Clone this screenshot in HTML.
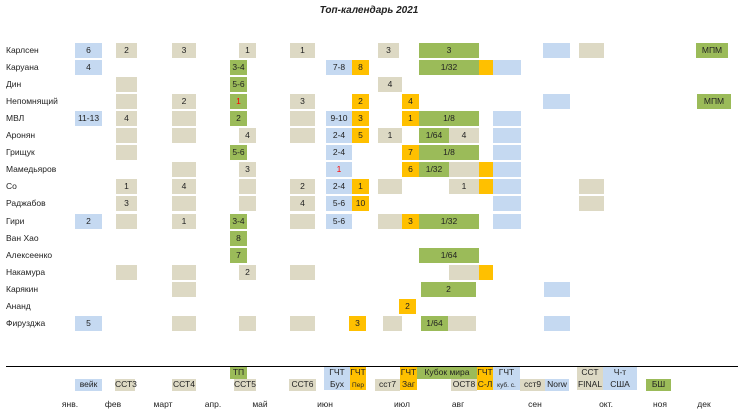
<!DOCTYPE html>
<html><head><meta charset="utf-8">
<style>
body{margin:0;background:#fff;}
#root{position:relative;width:738px;height:417px;overflow:hidden;font-family:"Liberation Sans",sans-serif;color:#222;}
.c{position:absolute;height:15px;line-height:15px;font-size:8.5px;text-align:center;white-space:nowrap;}
.nm{position:absolute;left:6px;font-size:8.5px;line-height:15px;height:15px;}
.lg{position:absolute;font-size:8.5px;text-align:center;white-space:nowrap;line-height:11.5px;}
.mo{position:absolute;top:399px;font-size:8.5px;transform:translateX(-50%);}
</style></head><body>
<div id="root">
<div style="position:absolute;left:0;width:738px;top:5px;text-align:center;font-size:10px;font-weight:bold;font-style:italic;">Топ-календарь 2021</div>
<div style="position:absolute;left:6px;width:732px;top:365.5px;height:1px;background:#000;"></div>
</div>
<script>
const players=["Карлсен","Каруана","Дин","Непомнящий","МВЛ","Аронян","Грищук","Мамедьяров","Со","Раджабов","Гири","Ван Хао","Алексеенко","Накамура","Карякин","Ананд","Фирузджа"];
const tourIds=["wijk","sst3","sst4","tp","sst5","sst6","buh","per","sst7","zag","cup","sst8","sl","kubs","norw","final","mpm"];
const tourStart=[35,55.5,83.5,112.5,117,142.5,160.5,173.5,186.5,198.5,207,222,237,244,269,287,345.5];
const tourEnd=[48.5,66,95.5,121,125.5,155,173.5,182,198.5,207,237,237,244,258,282.5,299.5,361.5];
const tourColor=["#C5D9F1","#DDD9C4","#DDD9C4","#9BBB59","#DDD9C4","#DDD9C4","#C5D9F1","#FFC000","#DDD9C4","#FFC000","#9BBB59","#DDD9C4","#FFC000","#C5D9F1","#C5D9F1","#DDD9C4","#9BBB59"];
// results: [playerIndex, tournament, label, optionalStart, optionalEnd]
const results=[
[0,"wijk","6"],[0,"sst3","2"],[0,"sst4","3"],[0,"sst5","1"],[0,"sst6","1"],[0,"sst7","3",186.5,197],[0,"cup","3"],[0,"norw",""],[0,"final",""],[0,"mpm","МПМ"],
[1,"wijk","4"],[1,"tp","3-4"],[1,"buh","7-8"],[1,"per","8"],[1,"cup","1/32"],[1,"sl",""],[1,"kubs",""],
[2,"sst3",""],[2,"tp","5-6"],[2,"sst7","4"],
[3,"sst3",""],[3,"sst4","2"],[3,"tp","1"],[3,"sst6","3"],[3,"per","2"],[3,"zag","4"],[3,"norw",""],[3,"mpm","МПМ",346,363],
[4,"wijk","11-13"],[4,"sst3","4"],[4,"sst4",""],[4,"tp","2"],[4,"sst6",""],[4,"buh","9-10"],[4,"per","3"],[4,"zag","1"],[4,"cup","1/8"],[4,"kubs",""],
[5,"sst3",""],[5,"sst4",""],[5,"sst5","4"],[5,"sst6",""],[5,"buh","2-4"],[5,"per","5"],[5,"sst7","1"],[5,"cup","1/64",207,222],[5,"sst8","4"],[5,"kubs",""],
[6,"sst3",""],[6,"tp","5-6"],[6,"buh","2-4"],[6,"zag","7"],[6,"cup","1/8"],[6,"kubs",""],
[7,"sst4",""],[7,"sst5","3"],[7,"buh","1"],[7,"zag","6"],[7,"cup","1/32",207,222],[7,"sst8",""],[7,"sl",""],[7,"kubs",""],
[8,"sst3","1"],[8,"sst4","4"],[8,"sst5",""],[8,"sst6","2"],[8,"buh","2-4"],[8,"per","1"],[8,"sst7",""],[8,"sst8","1"],[8,"sl",""],[8,"kubs",""],[8,"final",""],
[9,"sst3","3"],[9,"sst4",""],[9,"sst5",""],[9,"sst6","4"],[9,"buh","5-6"],[9,"per","10"],[9,"kubs",""],[9,"final",""],
[10,"wijk","2"],[10,"sst3",""],[10,"sst4","1"],[10,"tp","3-4"],[10,"sst6",""],[10,"buh","5-6"],[10,"sst7",""],[10,"zag","3"],[10,"cup","1/32"],[10,"kubs",""],
[11,"tp","8"],
[12,"tp","7"],[12,"cup","1/64"],
[13,"sst3",""],[13,"sst4",""],[13,"sst5","2"],[13,"sst6",""],[13,"sst8",""],[13,"sl",""],
[14,"sst4",""],[14,"cup","2",208,235.5],[14,"norw","",269.5,282.5],
[15,"zag","2",197,205.5],
[16,"wijk","5"],[16,"sst4",""],[16,"sst5",""],[16,"sst6",""],[16,"per","3",172,180.5],[16,"sst7","",189,198.5],[16,"cup","1/64",208,221.5],[16,"sst8","",221.5,235.5],[16,"norw","",269.5,282.5]
];
const redLabels=[[3,"tp"],[7,"buh"]];
const months=["янв.","фев","март","апр.","май","июн","июл","авг","сен","окт.","ноя","дек"];
const monthDay=[32.5,54,79,104,127.5,160,198.5,226.5,265,300.5,327.5,349.5];
const xScale=d=>5+d*2;
const rowY=i=>43+i*17.05;
const root=document.getElementById('root');
players.forEach((p,i)=>{
  const d=document.createElement('div');d.className='nm';d.style.top=rowY(i)+'px';d.textContent=p;
  
  
  root.appendChild(d);
});
results.forEach(r=>{
  const t=tourIds.indexOf(r[1]);
  const s=r[3]!==undefined?r[3]:tourStart[t], e=r[4]!==undefined?r[4]:tourEnd[t];
  const d=document.createElement('div');d.className='c';
  d.style.left=xScale(s)+'px';d.style.width=(xScale(e)-xScale(s))+'px';d.style.top=rowY(r[0])+'px';
  d.style.background=tourColor[t];d.textContent=r[2];
  if(redLabels.some(q=>q[0]===r[0]&&q[1]===r[1]))d.style.color='#FF0000';
  
  
  root.appendChild(d);
});
// legend: [text, startDay, endDay, rowPos, color]
const legend=[
["вейк",35,48.5,"b","#C5D9F1"],["ССТ3",55,65,"b","#DDD9C4"],["ССТ4",83.5,95.5,"b","#DDD9C4"],
["ТП",112.5,121,"t","#9BBB59"],["ССТ5",114.5,125.5,"b","#DDD9C4"],["ССТ6",142,155.5,"b","#DDD9C4"],
["ГЧТ<br>Бух",159.5,172.5,"tb","#C5D9F1"],["ГЧТ<br><span style='font-size:6.5px'>Пер</span>",172.5,180.5,"tb","#FFC000"],
["сст7",185,197.5,"b","#DDD9C4"],["ГЧТ<br>Заг",197.5,206,"tb","#FFC000"],["Кубок мира",206,236,"t","#9BBB59"],
["ОСТ8",223,236,"b","#DDD9C4"],["ГЧТ<br>С-Л",236,244,"tb","#FFC000"],["ГЧТ<br><span style='font-size:6.5px'>куб. с.</span>",244,257.5,"tb","#C5D9F1"],
["сст9",257.5,270,"b","#DDD9C4"],["Norw",270,282,"b","#C5D9F1"],["ССТ<br>FINAL",286,299,"tb","#DDD9C4"],
["Ч-т<br>США",299,316,"tb","#C5D9F1"],["БШ",320.5,333,"b","#9BBB59"]
];
legend.forEach(l=>{
  const d=document.createElement('div');d.className='lg';
  const top=l[3]==='b'?379:367, h=l[3]==='tb'?23:11.5;
  d.style.left=xScale(l[1])+'px';d.style.width=(xScale(l[2])-xScale(l[1]))+'px';
  d.style.top=top+'px';d.style.height=h+'px';d.style.background=l[4];d.innerHTML=l[0];
  
  
  root.appendChild(d);
});
months.forEach((m,i)=>{
  const d=document.createElement('div');d.className='mo';d.style.left=xScale(monthDay[i])+'px';d.textContent=m;
  
  
  root.appendChild(d);
});
</script>
</body></html>
